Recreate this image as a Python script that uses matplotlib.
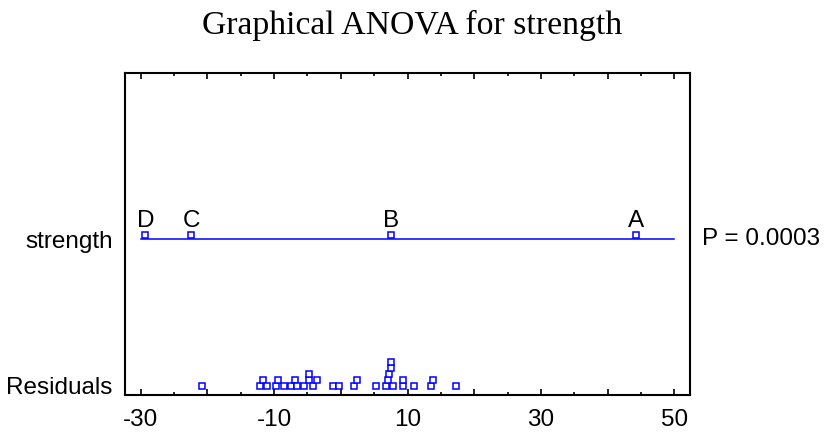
import matplotlib
matplotlib.use("Agg")
import matplotlib.pyplot as plt
from matplotlib.ticker import FixedLocator

# ---- data ----
title = "Graphical ANOVA for strength"
factor_name = "strength"
residual_name = "Residuals"
p_label = "P = 0.0003"
groups = ["D", "C", "B", "A"]
group_effects = [-29.3, -22.4, 7.6, 44.3]
residuals = [-20.85, -12.1, -11.7, -11.0, -9.7, -9.35, -8.5, -7.5, -6.85, -6.6,
             -5.5, -4.75, -4.75, -4.1, -3.6, -1.1, -0.2, 2.05, 2.5, 5.3,
             6.8, 7.05, 7.3, 7.5, 7.55, 7.9, 9.4, 9.4, 11.0, 13.5, 13.8, 17.25]
x_ticks = [-30, -10, 10, 30, 50]
x_long_ticks = [-30, -20, -10, 0, 10, 20, 30, 40, 50]
x_short_ticks = [-25, -15, -5, 5, 15, 25, 35, 45]

# ---- layout ----
W, H = 825, 432
fig = plt.figure(figsize=(W / 100, H / 100), dpi=100)
left, right, top, bottom = 125, 690, 73, 395
ax = fig.add_axes([left / W, (H - bottom) / H, (right - left) / W, (bottom - top) / H])
ax.set_xlim(-32.35, 52.35)
ax.set_ylim(0, bottom - top)

blue = "#0000FF"
sans = "Liberation Sans"
fs = 17.5

row_res = 9
row_fac = 156
step = 6

# stacked residual dot plot
thr = 0.8
levels_pts = {}
xs, ys = [], []
for v in sorted(residuals):
    lvl = 0
    while any(abs(v - u) < thr for u in levels_pts.get(lvl, [])):
        lvl += 1
    levels_pts.setdefault(lvl, []).append(v)
    xs.append(v)
    ys.append(row_res + lvl * step)
ax.plot(xs, ys, ls="none", marker="s", ms=4.8, mfc="white", mec=blue, mew=1.1, zorder=3)

# factor row
ax.plot([x_ticks[0], x_ticks[-1]], [row_fac, row_fac], color=blue, lw=1.1, zorder=2)
ax.plot(group_effects, [row_fac + 4] * len(group_effects), ls="none", marker="s", ms=4.8,
        mfc="white", mec=blue, mew=1.1, zorder=3)
for g, e in zip(groups, group_effects):
    ax.text(e, row_fac + 18, g, ha="center", va="center", fontsize=fs, family=sans, color="black")

ax.text(1.0 + 12 / (right - left), row_fac, p_label, transform=ax.get_yaxis_transform(),
        ha="left", va="center", fontsize=fs, family=sans)

ax.set_yticks([row_fac, row_res])
ax.set_yticklabels([factor_name, residual_name], fontsize=fs, family=sans)
ax.tick_params(axis="y", length=0, pad=9)

# x ticks: labels at every 20, inward ticks top & bottom (long every 10, short every 5)
ax.xaxis.set_major_locator(FixedLocator(x_long_ticks))
ax.xaxis.set_minor_locator(FixedLocator(x_short_ticks))
ax.set_xticklabels([str(t) if t in x_ticks else "" for t in x_long_ticks], fontsize=fs, family=sans)
ax.tick_params(axis="x", which="both", top=True, bottom=True, direction="in", width=1.2)
ax.tick_params(axis="x", which="major", length=4.5, pad=10)
ax.tick_params(axis="x", which="minor", length=2.5)

for s in ax.spines.values():
    s.set_linewidth(1.5)

fig.text(412 / W, 1 - 25 / H, title, ha="center", va="center",
         fontsize=24.3, family="Liberation Serif")

fig.savefig("out.png", dpi=100)
